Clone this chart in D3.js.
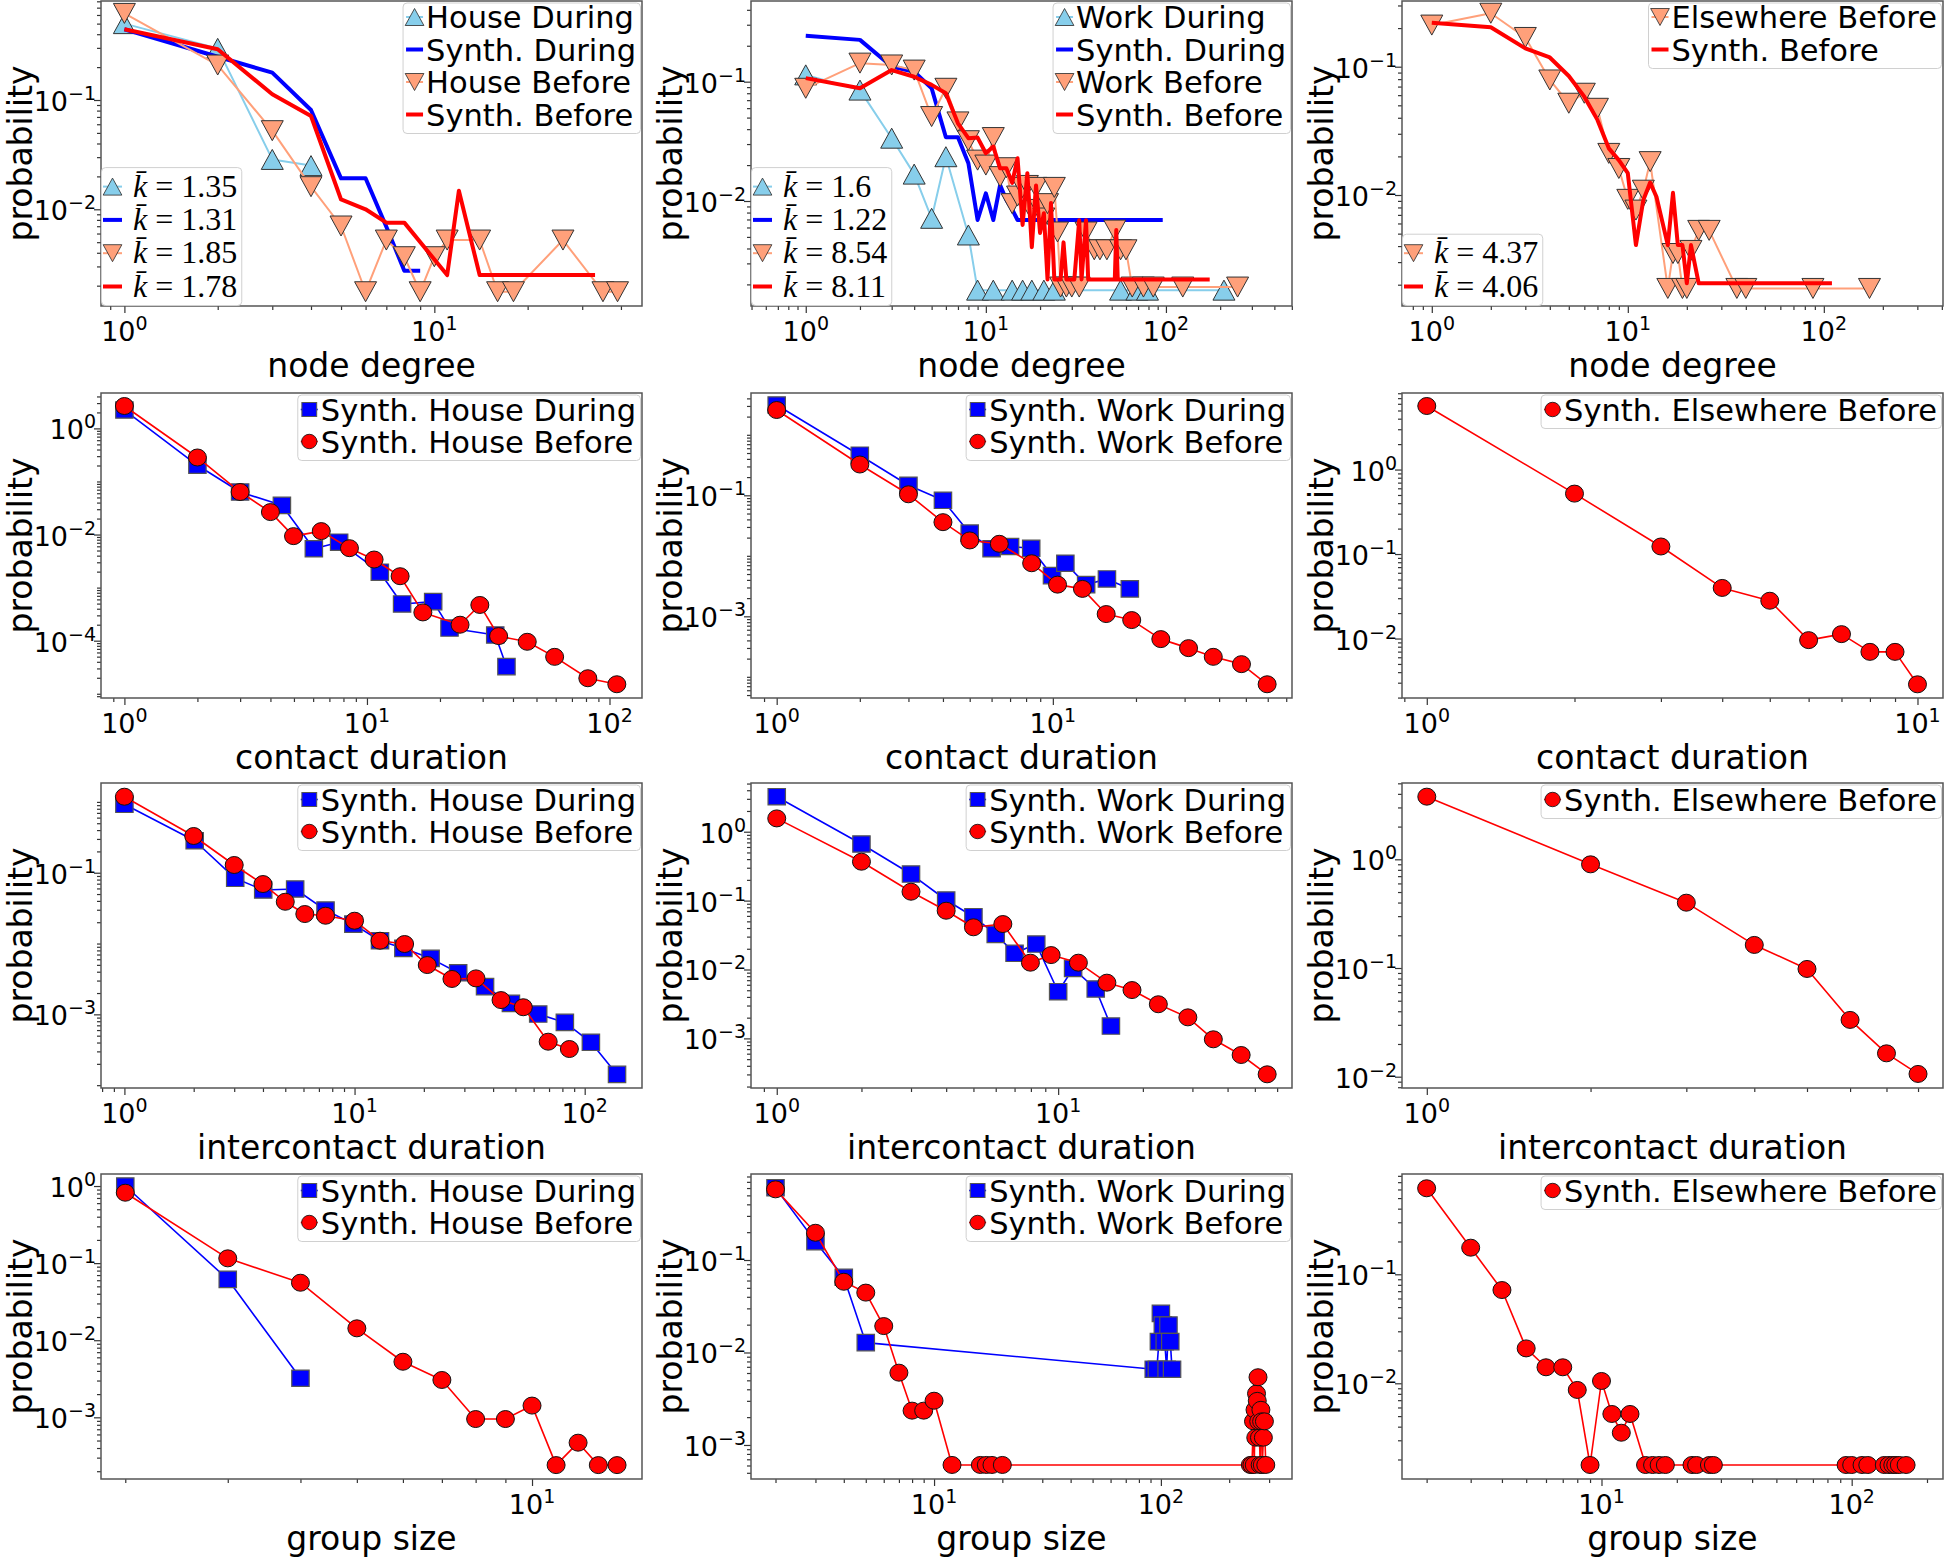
<!DOCTYPE html>
<html lang="en">
<head>
<meta charset="UTF-8">
<title>Degree, duration and group size distributions</title>
<script src="https://cdn.jsdelivr.net/npm/d3@7"></script>
<style>
  body { margin: 0; background: #fff; }
  text { font-family: "DejaVu Sans", sans-serif; fill: #000; }
</style>
</head>
<body>
<svg id="chart" width="1944" height="1557"></svg>
<script>
// ---- row 1: node degree ----
const houseDegDuring = [[1,.50],[2,.297],[3,.0286],[4,.0251]];
const houseDegSynthDuring = [[1,.444],[2,.249],[3,.178],[4,.081],[5,.0192],[6,.0192],[7,.00693],[8,.00274],[9,.00274]];
const houseDegBefore = [[1,.62],[2,.209],[3,.0524],[4,.0161],[5,.00703],[6,.00176],[7,.00523],[8,.00368],[9,.00176],[10,.00368],[11,.00523],[14,.00523],[16,.00176],[18,.00176],[26,.00523],[35,.00176],[39,.00176]];
const houseDegSynthBefore = [[1,.444],[2,.291],[3,.113],[4,.0714],[5,.0123],[6,.0100],[7,.00755],[8,.00755],[11,.0025],[12,.0148],[14,.0025],[33,.0025]];
const houseKbar = ["1.35","1.31","1.85","1.78"];

const workDegDuring = [[1,.114],[2,.085],[3,.0336],[4,.0168],[5,.00716],[6,.0235],[8,.00519],[9,.00179],[11,.00179],[14,.00179],[16,.00179],[18,.00179],[21,.00179],[24,.00179],[56,.00179],[69,.00179],[79,.00179],[210,.00179]];
const workDegSynthDuring = [[1,.242],[2,.224],[3,.134],[4,.121],[5,.088],[6,.0342],[7,.0342],[8,.0207],[9,.00693],[10,.0116],[11,.00693],[12,.0136],[13,.0102],[14,.0085],[15,.00693],[96,.00693]];
const workDegBefore = [[1,.088],[2,.143],[3,.138],[4,.125],[5,.051],[6,.088],[7,.046],[8,.032],[9,.022],[10,.020],[11,.034],[12,.016],[13,.019],[14,.0095],[15,.011],[16,.013],[17,.0135],[18,.0083],[19,.013],[20,.0085],[21,.0072],[22,.0095],[24,.013],[25,.0055],[26,.0019],[28,.0019],[30,.0019],[33,.0019],[36,.0055],[40,.0039],[43,.0039],[47,.0039],[52,.0057],[56,.0039],[60,.0039],[65,.0019],[75,.0019],[85,.0019],[124,.0019],[250,.0019]];
const workDegSynthBefore = [[1,.107],[2,.088],[3,.125],[4,.110],[5,.094],[6,.080],[7,.0448],[8,.0336],[9,.034],[10,.0251],[11,.0286],[12,.0188],[13,.0188],[14,.0142],[15,.0228],[16,.0063],[17,.0171],[18,.0041],[19,.0135],[20,.0054],[21,.0079],[22,.0022],[23,.0096],[24,.0022],[26,.0022],[27,.0045],[28,.0022],[31,.0022],[33,.0069],[34,.0022],[36,.0069],[37,.0022],[52,.0022],[53,.0057],[54,.0022],[175,.0022]];
const workKbar = ["1.6","1.22","8.54","8.11"];

const elseDegBefore = [[1,.211],[2,.261],[3,.169],[4,.0788],[5,.0519],[6,.0621],[7,.0474],[8,.0211],[9,.0161],[10,.00925],[11,.00763],[12,.0109],[13,.0182],[16,.00187],[17,.0035],[18,.0035],[19,.00187],[20,.00187],[21,.0037],[23,.0053],[26,.0053],[36,.00187],[40,.00187],[88,.00187],[171,.00187]];
const elseDegSynthBefore = [[1,.220],[2,.203],[3,.139],[4,.118],[5,.0847],[6,.0584],[7,.0385],[8,.0231],[9,.0187],[10,.0148],[11,.00407],[12,.00915],[13,.0125],[14,.0097],[16,.00407],[17,.0104],[18,.00407],[19,.00407],[20,.00205],[21,.00407],[23,.00205],[110,.00205]];
const elseKbar = ["4.37","4.06"];

// ---- row 2: contact duration ----
const houseDurDuring = [[1,2.22],[2,.202],[3,.0633],[4.46,.0355],[6.04,.0054],[7.68,.00718],[11.3,.00195],[13.96,.000492],[18.75,.000544],[21.9,.000173],[33.8,.000128],[37.6,.0000325]];
const houseDurBefore = [[1,2.64],[2,.283],[3,.0633],[4,.0265],[4.98,.00933],[6.48,.0116],[8.47,.00553],[10.7,.00338],[13.7,.00164],[17,.000341],[24.2,.0002],[29.2,.000471],[34.9,.000122],[45.8,.0000953],[59.4,.0000496],[81.4,.0000196],[107.2,.0000151]];
const workDurDuring = [[1,3.11],[2,.460],[3,.1466],[4,.0827],[5,.0237],[6,.0131],[7,.01426],[8.35,.0133],[9.93,.00471],[11.1,.00754],[13.2,.00334],[15.7,.00415],[19,.00284]];
const workDurBefore = [[1,2.57],[2,.323],[3,.104],[4,.036],[5,.01795],[6.4,.0158],[8.38,.00754],[10.4,.00334],[12.8,.00284],[15.6,.00109],[19.3,.000867],[24.6,.00042],[31,.000298],[38.1,.000214],[48.2,.000162],[59.7,.0000753]];
const elseDurBefore = [[1,5.65],[2,.519],[3,.1228],[4,.0397],[5,.028],[6,.00957],[7,.01127],[8,.00695],[9,.00695],[10,.00287]];

// ---- row 3: intercontact duration ----
const houseIcDuring = [[1,.925],[2.02,.283],[3.03,.0834],[4.01,.057],[5.52,.0589],[7.48,.0297],[9.88,.0188],[12.9,.01096],[16.3,.00855],[21.4,.00618],[28.2,.00387],[36.9,.00246],[47.8,.00143],[62.8,.00101],[82,.00077],[106.4,.000403],[138.2,.000142]];
const houseIcBefore = [[1,1.184],[2,.33],[3,.1285],[4,.0692],[5,.0389],[6.08,.0261],[7.48,.0247],[10,.021],[12.9,.01096],[16.5,.00984],[20.7,.00497],[26.5,.00316],[33.7,.00322],[43.3,.00159],[54.1,.00126],[69.4,.000411],[85.8,.000324]];
const workIcDuring = [[1,3.22],[2,.663],[3,.243],[4,.102],[5,.0584],[6,.0324],[7,.01718],[8.36,.0234],[10,.00476],[11.3,.0104],[13.6,.00521],[15.4,.00151]];
const workIcBefore = [[1,1.56],[2,.367],[3,.1346],[4,.0713],[5,.041],[6.36,.0457],[7.97,.01256],[9.44,.0162],[11.8,.01256],[14.9,.00644],[18.3,.00503],[22.7,.00313],[28.9,.00202],[35.6,.00097],[44.7,.000574],[55.3,.000301]];
const elseIcBefore = [[1,3.77],[2,.899],[3,.399],[4,.163],[5,.098],[6,.0333],[7,.0164],[8,.0106]];

// ---- row 4: group size ----
const houseGrpDuring = [[2,1.0],[3,.0616],[4,.00321]];
const houseGrpBefore = [[2,.819],[3,.1153],[4,.0557],[5,.01426],[6,.00526],[7,.00305],[8,.00095],[9,.00095],[10,.00142],[11,.00024],[12,.000469],[13,.00024],[14,.00024]];
const workGrpDuring = [[2,.605],[3,.158],[4,.065],[5,.01277],[93,.0066],[96,.0066],[98,.0131],[100,.0265],[102,.0198],[104,.0131],[106,.0066],[108,.0198],[110,.0131],[112,.0066]];
const workGrpBefore = [[2,.581],[3,.197],[4,.0582],[5,.0444],[6,.0193],[7,.00605],[8,.00235],[9,.00235],[10,.00301],[12,.000608],[16,.000608],[17,.000608],[18,.000608],[20,.000608],[248,.000608],[252,.000608],[256,.0018],[258,.000608],[260,.0024],[262,.0012],[264,.0036],[266,.003],[268,.0054],[270,.0018],[272,.0012],[274,.000608],[276,.0024],[278,.0018],[280,.000608],[283,.0012],[286,.0018],[290,.000608]];
const elseGrpBefore = [[2,.615],[3,.1754],[4,.0717],[5,.0209],[6,.01402],[7,.01402],[8,.00869],[9,.00178],[10,.0105],[11,.00523],[12,.00352],[13,.00523],[15,.00178],[16,.00178],[17,.00178],[18,.00178],[23,.00178],[24,.00178],[27,.00178],[28,.00178],[95,.00178],[100,.00178],[110,.00178],[116,.00178],[135,.00178],[141,.00178],[146,.00178],[150,.00178],[155,.00178],[165,.00178]];

// styles
const HD = {shape: "up", fill: "#87CEEB", line: "#87CEEB", lw: 2};
const SD = {shape: null, line: "#0000FF", lw: 4};
const HB = {shape: "down", fill: "#FFA07A", line: "#FFA07A", lw: 2};
const SB = {shape: null, line: "#FF0000", lw: 4};
const SQ = {shape: "square", fill: "#0000FF", line: "#0000FF", lw: 1.6};
const CI = {shape: "circle", fill: "#FF0000", line: "#FF0000", lw: 1.6};

const colX = [101, 751, 1402], colW = 541;
const rowY = [1, 393, 783, 1174], rowH = 305;

const panels = [
  {r:0, c:0, xd:[-0.0755,1.67], yd:[-2.885,-0.094], xt:[0,1], yt:[-2,-1], xlab:"node degree",
   series:[[houseDegDuring,HD],[houseDegSynthDuring,SD],[houseDegBefore,HB],[houseDegSynthBefore,SB]],
   legend:[["House During",HD],["Synth. During",SD],["House Before",HB],["Synth. Before",SB]],
   kbar:houseKbar.map((v,i) => [v,[HD,SD,HB,SB][i]])},
  {r:0, c:1, xd:[-0.304,2.70], yd:[-2.88,-0.324], xt:[0,1,2], yt:[-2,-1], xlab:"node degree",
   series:[[workDegDuring,HD],[workDegSynthDuring,SD],[workDegBefore,HB],[workDegSynthBefore,SB]],
   legend:[["Work During",HD],["Synth. During",SD],["Work Before",HB],["Synth. Before",SB]],
   kbar:workKbar.map((v,i) => [v,[HD,SD,HB,SB][i]])},
  {r:0, c:2, xd:[-0.152,2.608], yd:[-2.865,-0.488], xt:[0,1,2], yt:[-2,-1], xlab:"node degree",
   series:[[elseDegBefore,HB],[elseDegSynthBefore,SB]],
   legend:[["Elsewhere Before",HB],["Synth. Before",SB]],
   kbar:elseKbar.map((v,i) => [v,[HB,SB][i]])},
  {r:1, c:0, xd:[-0.0965,2.134], yd:[-5.08,0.667], xt:[0,1,2], yt:[-4,-2,0], xlab:"contact duration",
   series:[[houseDurDuring,SQ],[houseDurBefore,CI]],
   legend:[["Synth. House During",SQ],["Synth. House Before",CI]]},
  {r:1, c:1, xd:[-0.093,1.866], yd:[-4.35,0.691], xt:[0,1], yt:[-3,-1], xlab:"contact duration",
   series:[[workDurDuring,SQ],[workDurBefore,CI]],
   legend:[["Synth. Work During",SQ],["Synth. Work Before",CI]]},
  {r:1, c:2, xd:[-0.0505,1.052], yd:[-2.704,0.906], xt:[0,1], yt:[-2,-1,0], xlab:"contact duration",
   series:[[elseDurBefore,CI]],
   legend:[["Synth. Elsewhere Before",CI]]},
  {r:2, c:0, xd:[-0.1017,2.249], yd:[-4.04,0.267], xt:[0,1,2], yt:[-3,-1], xlab:"intercontact duration",
   series:[[houseIcDuring,SQ],[houseIcBefore,CI]],
   legend:[["Synth. House During",SQ],["Synth. House Before",CI]]},
  {r:2, c:1, xd:[-0.0915,1.831], yd:[-3.72,0.707], xt:[0,1], yt:[-3,-2,-1,0], xlab:"intercontact duration",
   series:[[workIcDuring,SQ],[workIcBefore,CI]],
   legend:[["Synth. Work During",SQ],["Synth. Work Before",CI]]},
  {r:2, c:2, xd:[-0.0456,0.949], yd:[-2.104,0.702], xt:[0], yt:[-2,-1,0], xlab:"intercontact duration",
   series:[[elseIcBefore,CI]],
   legend:[["Synth. Elsewhere Before",CI]]},
  {r:3, c:0, xd:[0.2593,1.189], yd:[-3.80,0.156], xt:[1], yt:[-3,-2,-1,0], xlab:"group size",
   series:[[houseGrpDuring,SQ],[houseGrpBefore,CI]],
   legend:[["Synth. House During",SQ],["Synth. House Before",CI]]},
  {r:3, c:1, xd:[0.193,2.578], yd:[-3.368,-0.070], xt:[1,2], yt:[-3,-2,-1], xlab:"group size",
   series:[[workGrpDuring,SQ],[workGrpBefore,CI]],
   legend:[["Synth. Work During",SQ],["Synth. Work Before",CI]]},
  {r:3, c:2, xd:[0.2026,2.365], yd:[-2.878,-0.080], xt:[1,2], yt:[-2,-1], xlab:"group size",
   series:[[elseGrpBefore,CI]],
   legend:[["Synth. Elsewhere Before",CI]]}
];

const svg = d3.select("#chart");
svg.append("rect").attr("width", 1944).attr("height", 1557).attr("fill", "#fff");
const defs = svg.append("defs");

function expStr(k) { return k < 0 ? "\u2212" + (-k) : String(k); }

function logTicks(dom, labeled) {
  const lo = Math.log10(dom[0]), hi = Math.log10(dom[1]);
  const major = [], minor = [];
  for (let k = Math.floor(lo); k <= Math.ceil(hi); k++) {
    for (let m = 1; m <= 9; m++) {
      const lv = Math.log10(m) + k;
      if (lv < lo - 1e-9 || lv > hi + 1e-9) continue;
      if (m === 1 && labeled.includes(k)) major.push(m * 10 ** k);
      else minor.push(m * 10 ** k);
    }
  }
  return {major, minor};
}

function markerPath(shape) {
  if (shape === "up") return "M0,-10L11,10L-11,10Z";
  if (shape === "down") return "M0,10L11,-10L-11,-10Z";
  if (shape === "square") return "M-8.7,-8.2H8.7V8.2H-8.7Z";
  return "M-9,0A9,8.5 0 1,0 9,0A9,8.5 0 1,0 -9,0Z";
}
function edgeOf(shape) {
  if (shape === "circle") return {c: "#111", w: 1};
  if (shape === "square") return {c: "#555", w: 1.2};
  return {c: "#333", w: 1};
}

function drawHandle(g, st, x0, x1, cy) {
  g.append("line").attr("x1", x0).attr("x2", x1).attr("y1", cy).attr("y2", cy)
    .attr("stroke", st.line).attr("stroke-width", st.lw);
  if (st.shape) {
    const e = edgeOf(st.shape);
    g.append("path").attr("d", markerPath(st.shape))
      .attr("transform", `translate(${(x0 + x1) / 2},${cy}) scale(0.85)`)
      .attr("fill", st.fill).attr("stroke", e.c).attr("stroke-width", e.w);
  }
}

panels.forEach((p, i) => {
  const L = colX[p.c], T = rowY[p.r], R = L + colW, B = T + rowH;
  const x = d3.scaleLog().domain(p.xd.map(e => 10 ** e)).range([L, R]);
  const y = d3.scaleLog().domain(p.yd.map(e => 10 ** e)).range([B, T]);
  const g = svg.append("g");

  defs.append("clipPath").attr("id", "clip" + i)
    .append("rect").attr("x", L).attr("y", T).attr("width", colW).attr("height", rowH);

  // ticks
  const xt = logTicks(x.domain(), p.xt), yt = logTicks(y.domain(), p.yt);
  const tickStyle = a => a.call(s => s.select(".domain").remove())
    .call(s => s.selectAll(".tick line").attr("stroke", "#333").attr("stroke-width", 1.2));
  g.append("g").attr("transform", `translate(0,${B})`)
    .call(d3.axisBottom(x).tickValues(xt.major).tickSize(7).tickFormat("")).call(tickStyle);
  g.append("g").attr("transform", `translate(0,${B})`)
    .call(d3.axisBottom(x).tickValues(xt.minor).tickSize(4).tickFormat("")).call(tickStyle);
  g.append("g").attr("transform", `translate(${L},0)`)
    .call(d3.axisLeft(y).tickValues(yt.major).tickSize(7).tickFormat("")).call(tickStyle);
  g.append("g").attr("transform", `translate(${L},0)`)
    .call(d3.axisLeft(y).tickValues(yt.minor).tickSize(4).tickFormat("")).call(tickStyle);

  p.xt.forEach(k => {
    const t = g.append("text").attr("x", x(10 ** k)).attr("y", B + 35)
      .attr("text-anchor", "middle").attr("font-size", 27);
    t.append("tspan").text("10");
    t.append("tspan").attr("dy", -11).attr("font-size", 19).text(expStr(k));
  });
  p.yt.forEach(k => {
    const t = g.append("text").attr("x", L - 5).attr("y", y(10 ** k) + 11)
      .attr("text-anchor", "end").attr("font-size", 27);
    t.append("tspan").text("10");
    t.append("tspan").attr("dy", -11).attr("font-size", 19).text(expStr(k));
  });

  // axis titles
  g.append("text").attr("x", (L + R) / 2).attr("y", B + 71).attr("text-anchor", "middle")
    .attr("font-size", 33).text(p.xlab);
  g.append("text").attr("transform", `translate(${L - 69},${(T + B) / 2}) rotate(-90)`)
    .attr("text-anchor", "middle").attr("font-size", 33).text("probability");

  // data
  const plot = g.append("g").attr("clip-path", `url(#clip${i})`);
  const line = d3.line().x(d => x(d[0])).y(d => y(d[1]));
  p.series.forEach(([data, st]) => {
    plot.append("path").datum(data).attr("d", line).attr("fill", "none")
      .attr("stroke", st.line).attr("stroke-width", st.lw).attr("stroke-linejoin", "round");
    if (st.shape) {
      const e = edgeOf(st.shape);
      plot.selectAll(null).data(data).join("path").attr("d", markerPath(st.shape))
        .attr("transform", d => `translate(${x(d[0])},${y(d[1])})`)
        .attr("fill", st.fill).attr("stroke", e.c).attr("stroke-width", e.w);
    }
  });

  // frame
  g.append("rect").attr("x", L).attr("y", T).attr("width", colW).attr("height", rowH)
    .attr("fill", "none").attr("stroke", "#555").attr("stroke-width", 1.5);

  // upper-right legend
  const lg = g.append("g");
  const box = lg.append("rect");
  const gap = p.r === 0 ? 32.5 : 32, first = p.r === 0 ? 16 : 16.5;
  const texts = p.legend.map((e, j) => lg.append("text").attr("y", T + first + j * gap + 11)
    .attr("font-size", 30.5).text(e[0]));
  const w = d3.max(texts, t => t.node().getComputedTextLength());
  const tx = R - 6 - w;
  texts.forEach(t => t.attr("x", tx));
  p.legend.forEach((e, j) => drawHandle(lg, e[1], tx - 20, tx - 3, T + first + j * gap));
  box.attr("x", tx - 23).attr("y", T + 2).attr("width", R - 1.5 - (tx - 23))
    .attr("height", first + (p.legend.length - 1) * gap + 17)
    .attr("rx", 4).attr("fill", "#fff").attr("fill-opacity", 0.8)
    .attr("stroke", "#d0d0d0").attr("stroke-width", 1);

  // mean degree legend (lower left)
  if (p.kbar) {
    const kg = g.append("g");
    const kbox = kg.append("rect");
    const n = p.kbar.length;
    const ys = p.kbar.map((e, j) => B - 19.5 - (n - 1 - j) * 33.3);
    const kt = p.kbar.map((e, j) => {
      const t = kg.append("text").attr("x", L + 32).attr("y", ys[j] + 10)
        .attr("font-size", 32).style("font-family", "'Liberation Serif', serif");
      t.append("tspan").attr("font-style", "italic").text("k\u0304");
      t.append("tspan").text(" = " + e[0]);
      return t;
    });
    p.kbar.forEach((e, j) => drawHandle(kg, e[1], L + 2, L + 21, ys[j]));
    const kw = d3.max(kt, t => t.node().getComputedTextLength());
    kbox.attr("x", L + 0.5).attr("y", ys[0] - 19).attr("width", kw + 36)
      .attr("height", B - 0.5 - (ys[0] - 19)).attr("rx", 4)
      .attr("fill", "#fff").attr("fill-opacity", 0.8).attr("stroke", "#d0d0d0").attr("stroke-width", 1);
  }
});
</script>
</body>
</html>
